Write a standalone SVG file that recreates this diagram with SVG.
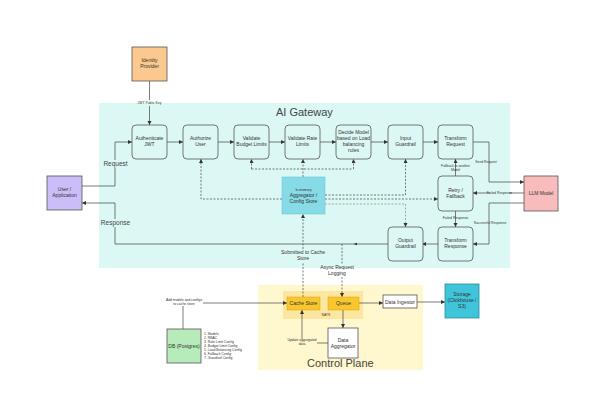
<svg xmlns="http://www.w3.org/2000/svg" width="603" height="404" viewBox="0 0 603 404">
<defs>
<marker id="arr" markerUnits="userSpaceOnUse" markerWidth="5" markerHeight="5" refX="4" refY="2" orient="auto"><path d="M0,0 L4,2 L0,4 Z" fill="#333"/></marker>
<style>
text{font-family:"Liberation Sans",Arial,sans-serif;fill:#333;text-anchor:middle}
.n{font-size:5px}
.s{font-size:3.4px}
.t{font-size:11px;fill:#444;text-anchor:start}
.lbl{font-size:6.5px;fill:#444}
.box{fill:#dcf8f5;stroke:#555;stroke-width:0.8}
.c{fill:none;stroke:#444;stroke-width:0.7}
.d{fill:none;stroke:#444;stroke-width:0.7;stroke-dasharray:2,1.5}
</style>
</defs>
<rect width="603" height="404" fill="#fff"/>
<rect x="99" y="103" width="411" height="165" fill="#dcf8f5"/>
<text class="t" x="276" y="116">AI Gateway</text>
<rect x="258" y="285" width="165" height="85" fill="#fff8cf"/>
<rect x="283" y="291" width="80" height="28" fill="#fde7a0"/>
<text class="s" x="326" y="316">NATS</text>
<text class="t" x="307" y="367">Control Plane</text>

<g id="connectors">
<path class="c" d="M149.5,81 V100 M149.5,106 V125" marker-end="url(#arr)"/>
<path class="c" d="M82,186 H115 V168 M115,160 V142 H132" marker-end="url(#arr)"/>
<path class="c" d="M388,244 H115 V227 M115,219 V203 H82" marker-end="url(#arr)"/>
<path class="c" d="M167,142 H183" marker-end="url(#arr)"/>
<path class="c" d="M218,142 H234" marker-end="url(#arr)"/>
<path class="c" d="M269,142 H285" marker-end="url(#arr)"/>
<path class="c" d="M320,142 H336" marker-end="url(#arr)"/>
<path class="c" d="M371,142 H388" marker-end="url(#arr)"/>
<path class="c" d="M422,142 H438" marker-end="url(#arr)"/>
<path class="c" d="M473,142 H489 V182 H524" marker-end="url(#arr)"/>
<path class="c" d="M524,193 H473" marker-end="url(#arr)"/>
<path class="c" d="M524,203 H489 V244 H473" marker-end="url(#arr)"/>
<path class="c" d="M455.5,176 V159" marker-end="url(#arr)"/>
<path class="c" d="M455.5,211 V227" marker-end="url(#arr)"/>
<path class="c" d="M438,244 H422" marker-end="url(#arr)"/>
<path d="M357,242.8 L353.5,244 L357,245.2 Z" fill="#333"/>
<path class="d" d="M282,199 H201 V159" marker-end="url(#arr)"/>
<path class="d" d="M303,177 V159" marker-end="url(#arr)"/>
<path class="d" d="M251.5,169 H353.5"/>
<path class="d" d="M251.5,169 V159" marker-end="url(#arr)"/>
<path class="d" d="M353.5,169 V159" marker-end="url(#arr)"/>
<path class="d" d="M325,195 H405.5 V159" marker-end="url(#arr)"/>
<path class="d" d="M325,199 H438" marker-end="url(#arr)"/>
<path class="d" d="M325,204 H405.5 V227" marker-end="url(#arr)" stroke-opacity="0.6"/>
<path class="d" d="M303,297 V262 M303,249 V214" marker-end="url(#arr)"/>
<path class="d" d="M342,244 V264 M342,277 V297" marker-end="url(#arr)"/>
<path class="c" d="M343,310 V328" marker-end="url(#arr)"/>
<path class="c" d="M359,303 H383" marker-end="url(#arr)"/>
<path class="c" d="M417,302 H445" marker-end="url(#arr)"/>
<path class="c" d="M183,329 V306"/>
<path class="c" d="M203,303 H287" marker-end="url(#arr)"/>
<path class="c" d="M328,343 H317"/>
<path class="c" d="M302,339 V310" marker-end="url(#arr)"/>
<text class="s" x="149.5" y="104">JWT Public Key</text>
<text class="lbl" x="115.5" y="166">Request</text>
<text class="lbl" x="115.5" y="225">Response</text>
<text class="s" x="486" y="163">Send Request</text>
<rect x="490" y="191" width="19" height="4" fill="#dcf8f5"/>
<text class="s" x="499.5" y="194.2">Failed Response</text>
<text class="s" x="490" y="224">Successful Response</text>
<text class="s" x="455.5" y="166.5">Fallback to another</text>
<text class="s" x="455.5" y="170.5">Model</text>
<text class="s" x="455.5" y="219">Failed Response</text>
<text class="n" x="303" y="254">Submitted to Cache</text>
<text class="n" x="303" y="260">Store</text>
<text class="n" x="337" y="269">Async Request</text>
<text class="n" x="337" y="275">Logging</text>
<text class="s" x="184" y="301">Add models and configs</text>
<text class="s" x="184" y="305">to cache store</text>
<text class="s" x="302" y="341">Update aggregated</text>
<text class="s" x="302" y="345">data</text>
</g>

<g id="identity"><rect x="132" y="47" width="35" height="34" fill="#fbc98f" stroke="#555" stroke-width="0.8"/><text class="n" x="149.5" y="62">Identity</text><text class="n" x="149.5" y="68">Provider</text></g>
<g id="user"><rect x="47" y="176" width="35" height="34" fill="#cbbdf7" stroke="#555" stroke-width="0.8"/><text class="n" x="64.5" y="191">User /</text><text class="n" x="64.5" y="197">Application</text></g>
<g id="auth-jwt"><rect class="box" x="132" y="125" width="35" height="34" rx="4"/><text class="n" x="149.5" y="140">Authenticate</text><text class="n" x="149.5" y="146">JWT</text></g>
<g id="authorize"><rect class="box" x="183" y="125" width="35" height="34" rx="4"/><text class="n" x="200.5" y="140">Authorize</text><text class="n" x="200.5" y="146">User</text></g>
<g id="budget"><rect class="box" x="234" y="125" width="35" height="34" rx="4"/><text class="n" x="251.5" y="140">Validate</text><text class="n" x="251.5" y="146">Budget Limits</text></g>
<g id="rate"><rect class="box" x="285" y="125" width="35" height="34" rx="4"/><text class="n" x="302.5" y="140">Validate Rate</text><text class="n" x="302.5" y="146">Limits</text></g>
<g id="decide"><rect class="box" x="336" y="125" width="35" height="34" rx="4"/><text class="n" x="353.5" y="134">Decide Model</text><text class="n" x="353.5" y="140">based on Load</text><text class="n" x="353.5" y="146">balancing</text><text class="n" x="353.5" y="152">rules</text></g>
<g id="input-guard"><rect class="box" x="388" y="125" width="35" height="34" rx="4"/><text class="n" x="405.5" y="140">Input</text><text class="n" x="405.5" y="146">Guardrail</text></g>
<g id="transform-req"><rect class="box" x="438" y="125" width="35" height="34" rx="4"/><text class="n" x="455.5" y="140">Transform</text><text class="n" x="455.5" y="146">Request</text></g>
<g id="retry"><rect class="box" x="438" y="176" width="35" height="35" rx="4"/><text class="n" x="455.5" y="192">Retry /</text><text class="n" x="455.5" y="198">Fallback</text></g>
<g id="transform-resp"><rect class="box" x="438" y="227" width="35" height="34" rx="4"/><text class="n" x="455.5" y="242">Transform</text><text class="n" x="455.5" y="248">Response</text></g>
<g id="output-guard"><rect class="box" x="388" y="227" width="35" height="34" rx="4"/><text class="n" x="405.5" y="242">Output</text><text class="n" x="405.5" y="248">Guardrail</text></g>
<g id="llm"><rect x="524" y="176" width="34" height="35" fill="#f8bcbc" stroke="#555" stroke-width="0.8"/><text class="n" x="541" y="195">LLM Model</text></g>
<g id="aggregator"><rect x="282" y="177" width="43" height="37" fill="#86dbe6" stroke="#6cc6d4" stroke-width="0.6"/><text class="s" x="303.5" y="191">In-memory</text><text class="n" x="303.5" y="197">Aggregator /</text><text class="n" x="303.5" y="203">Config Store</text></g>
<g id="cache-store"><rect x="287" y="297" width="33" height="13" fill="#f8c62e" stroke="#d9a400" stroke-width="0.5"/><text class="n" x="303.5" y="305">Cache Store</text></g>
<g id="queue"><rect x="328" y="297" width="31" height="13" fill="#f8c62e" stroke="#d9a400" stroke-width="0.5"/><text class="n" x="343.5" y="305">Queue</text></g>
<g id="data-aggregator"><rect x="328" y="328" width="30" height="30" fill="#fff" stroke="#555" stroke-width="0.8"/><text class="n" x="343" y="342">Data</text><text class="n" x="343" y="348">Aggregator</text></g>
<g id="data-ingestor"><rect x="383" y="295" width="34" height="13" fill="#fff" stroke="#555" stroke-width="0.8"/><text class="n" x="400" y="303.5">Data Ingestor</text></g>
<g id="storage"><rect x="445" y="284" width="34" height="34" fill="#3fc5da" stroke="#2b8d9e" stroke-width="0.8"/><text class="n" x="462" y="296">Storage</text><text class="n" x="462" y="302">(Clickhouse /</text><text class="n" x="462" y="308">S3)</text></g>
<g id="db"><rect x="167" y="329" width="34" height="34" fill="#b7ebba" stroke="#555" stroke-width="0.8"/><text class="n" x="184" y="347.5">DB (Postgres)</text>
<g class="s"><text x="204" y="335" style="text-anchor:start">1. Models</text><text x="204" y="339" style="text-anchor:start">2. RBAC</text><text x="204" y="343" style="text-anchor:start">3. Rate Limit Config</text><text x="204" y="347" style="text-anchor:start">4. Budget Limit Config</text><text x="204" y="351" style="text-anchor:start">5. Load Balancing Config</text><text x="204" y="355" style="text-anchor:start">6. Fallback Config</text><text x="204" y="359" style="text-anchor:start">7. Guardrail Config</text></g></g>
</svg>
